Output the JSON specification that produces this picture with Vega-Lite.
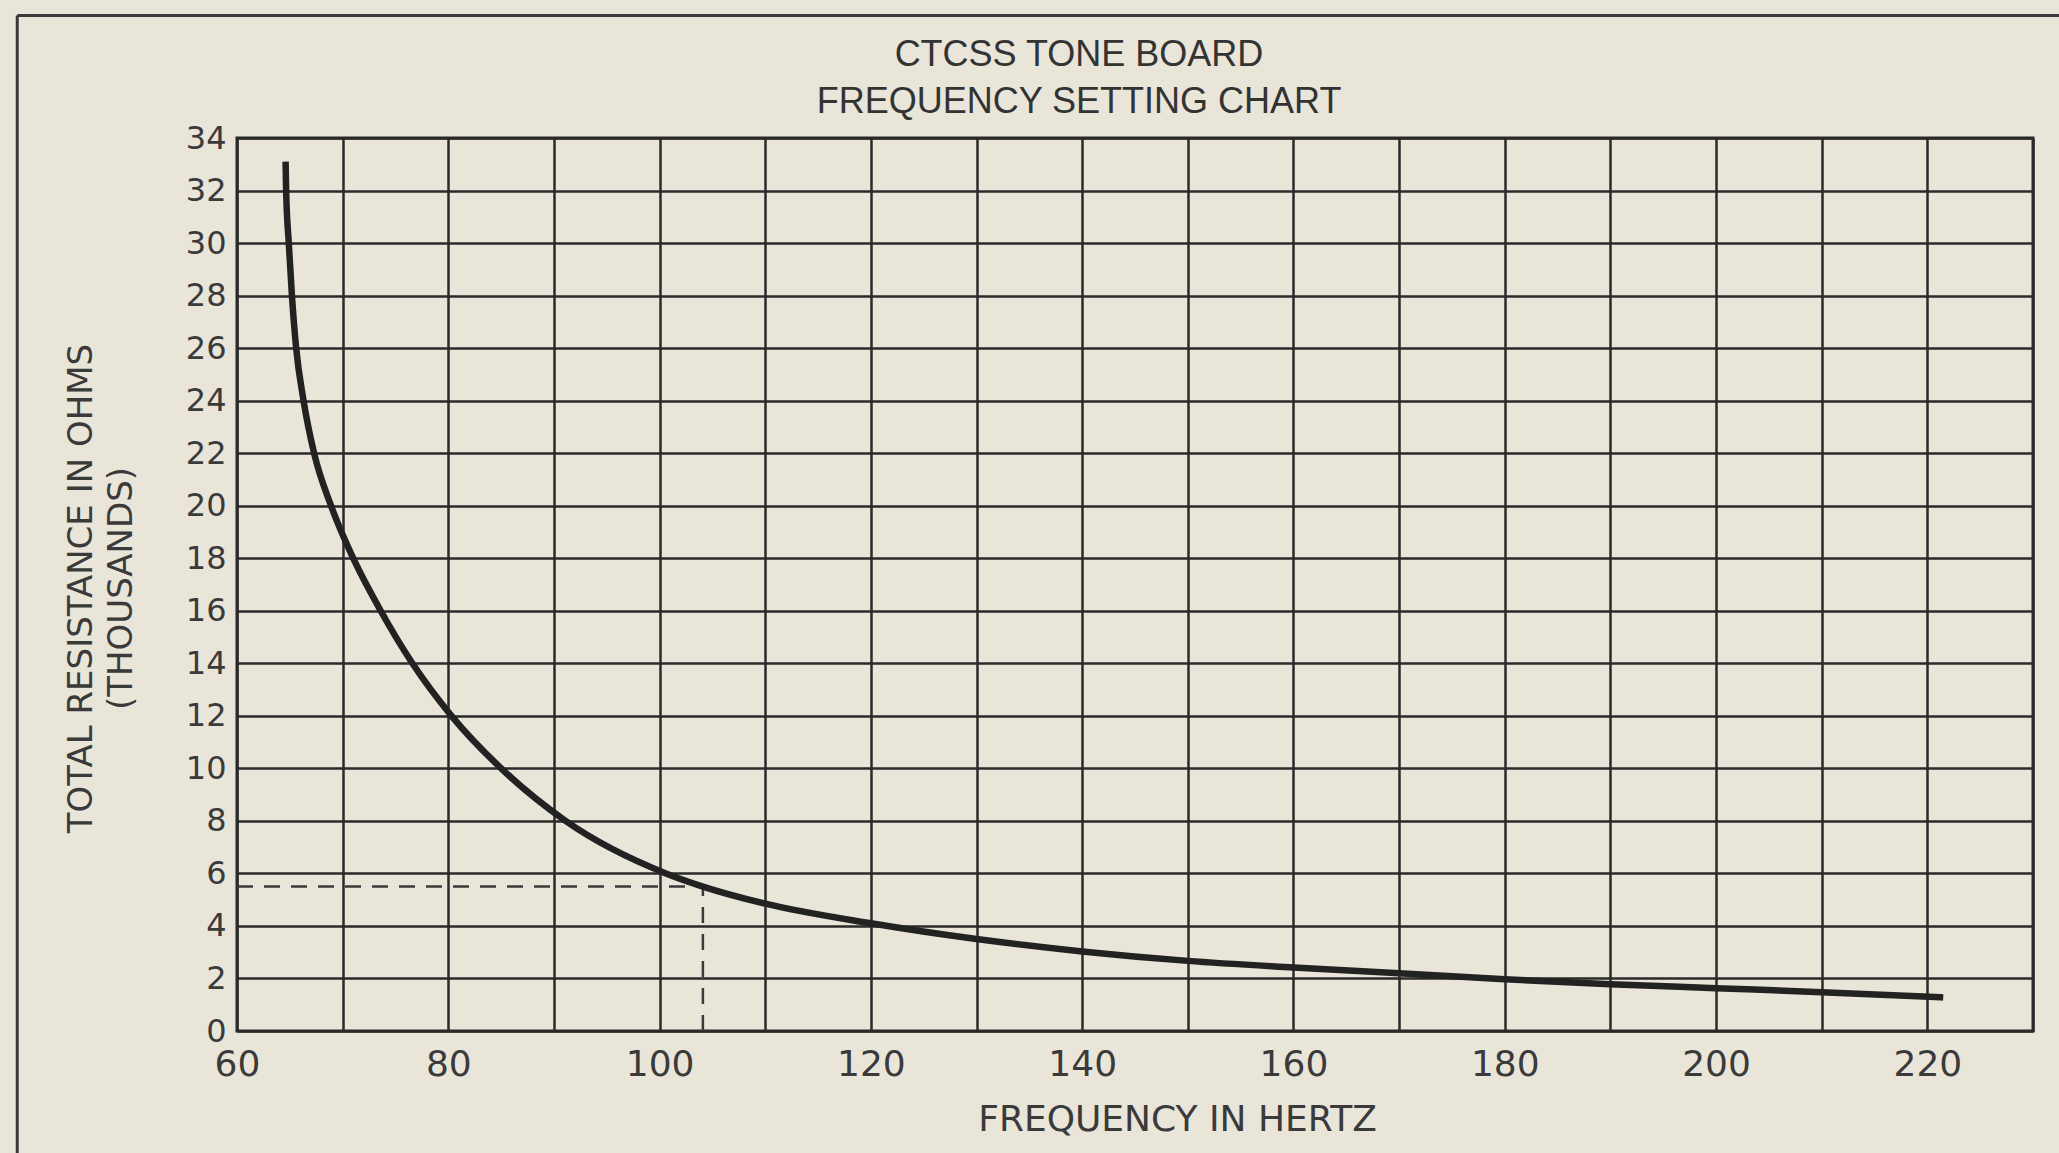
{
  "$schema": "https://vega.github.io/schema/vega-lite/v6.json",
  "width": 1796,
  "height": 893,
  "autosize": {"type": "none"},
  "padding": {"left": 237, "top": 138, "right": 26, "bottom": 122},
  "background": "#e9e5d9",
  "title": {
    "text": ["CTCSS TONE BOARD", "FREQUENCY SETTING CHART"],
    "font": "Liberation Sans",
    "fontSize": 36,
    "fontWeight": "normal",
    "color": "#333333",
    "lineHeight": 47,
    "anchor": "middle",
    "dx": -56,
    "dy": 129,
    "offset": 22
  },
  "config": {
    "view": {"stroke": "#2a2a2a", "strokeWidth": 3},
    "axis": {
      "domain": false,
      "ticks": false,
      "gridColor": "#2a2a2a",
      "gridWidth": 2.5,
      "gridOpacity": 1,
      "labelFont": "DejaVu Sans",
      "labelColor": "#3a3a3a",
      "titleFont": "DejaVu Sans",
      "titleColor": "#3a3a3a",
      "titleFontWeight": "normal"
    }
  },
  "datasets": {
    "curve": [
      {"f": 64.6, "r": 33.1},
      {"f": 64.65, "r": 32},
      {"f": 64.9, "r": 30},
      {"f": 65.2, "r": 28},
      {"f": 65.6, "r": 26},
      {"f": 66.3, "r": 24},
      {"f": 67.3, "r": 22},
      {"f": 68.9, "r": 20},
      {"f": 71.0, "r": 18},
      {"f": 73.6, "r": 16},
      {"f": 76.6, "r": 14},
      {"f": 80.3, "r": 12},
      {"f": 85.0, "r": 10},
      {"f": 91.1, "r": 8},
      {"f": 100.6, "r": 6},
      {"f": 104.1, "r": 5.5},
      {"f": 110, "r": 4.85},
      {"f": 120, "r": 4.1},
      {"f": 130, "r": 3.5},
      {"f": 140, "r": 3.03},
      {"f": 150, "r": 2.67},
      {"f": 160, "r": 2.42},
      {"f": 170, "r": 2.2},
      {"f": 180, "r": 1.97},
      {"f": 190, "r": 1.78},
      {"f": 200, "r": 1.63},
      {"f": 210, "r": 1.48},
      {"f": 221.5, "r": 1.28}
    ],
    "example": [{"f0": 60, "f": 104.1, "r0": 0, "r": 5.5}],
    "frame": [{"left": 39.2, "right": 240, "top": 38.66, "bottom": -5}]
  },
  "layer": [
    {
      "data": {"name": "frame"},
      "mark": {"type": "rule", "color": "#3a3a3a", "strokeWidth": 3, "clip": false},
      "encoding": {
        "x": {"field": "left", "type": "quantitative"},
        "x2": {"field": "right"},
        "y": {"field": "top", "type": "quantitative"}
      }
    },
    {
      "data": {"name": "frame"},
      "mark": {"type": "rule", "color": "#3a3a3a", "strokeWidth": 3, "clip": false},
      "encoding": {
        "x": {"field": "left", "type": "quantitative"},
        "y": {"field": "top", "type": "quantitative"},
        "y2": {"field": "bottom"}
      }
    },
    {
      "data": {"name": "example"},
      "mark": {"type": "rule", "color": "#3a3a3a", "strokeWidth": 2.5, "strokeDash": [16, 11]},
      "encoding": {
        "x": {"field": "f0", "type": "quantitative"},
        "x2": {"field": "f"},
        "y": {"field": "r", "type": "quantitative"}
      }
    },
    {
      "data": {"name": "example"},
      "mark": {"type": "rule", "color": "#3a3a3a", "strokeWidth": 2.5, "strokeDash": [16, 11]},
      "encoding": {
        "x": {"field": "f", "type": "quantitative"},
        "y": {"field": "r0", "type": "quantitative"},
        "y2": {"field": "r"}
      }
    },
    {
      "data": {"name": "curve"},
      "mark": {"type": "line", "color": "#222222", "strokeWidth": 6.5, "interpolate": "monotone", "strokeCap": "butt"},
      "encoding": {
        "x": {
          "field": "f",
          "type": "quantitative",
          "scale": {"domain": [60, 230], "nice": false, "zero": false},
          "axis": {
            "values": [60, 70, 80, 90, 100, 110, 120, 130, 140, 150, 160, 170, 180, 190, 200, 210, 220, 230],
            "labelExpr": "datum.value % 20 == 0 && datum.value < 230 ? datum.label : ''",
            "grid": true,
            "labelFontSize": 36,
            "labelPadding": 16,
            "labelFlush": false,
            "labelOverlap": false,
            "title": "FREQUENCY IN HERTZ",
            "titleFontSize": 36,
            "titleX": 940,
            "titleY": 88,
            "titleBaseline": "middle"
          }
        },
        "y": {
          "field": "r",
          "type": "quantitative",
          "scale": {"domain": [0, 34], "nice": false, "zero": false},
          "axis": {
            "values": [0, 2, 4, 6, 8, 10, 12, 14, 16, 18, 20, 22, 24, 26, 28, 30, 32, 34],
            "grid": true,
            "labelFontSize": 32,
            "labelPadding": 11,
            "labelFlush": false,
            "labelOverlap": false,
            "title": ["TOTAL RESISTANCE IN OHMS", "(THOUSANDS)"],
            "titleFontSize": 34,
            "titleLineHeight": 40,
            "titleX": -156,
            "titleY": 450,
            "titleBaseline": "middle"
          }
        }
      }
    }
  ]
}
